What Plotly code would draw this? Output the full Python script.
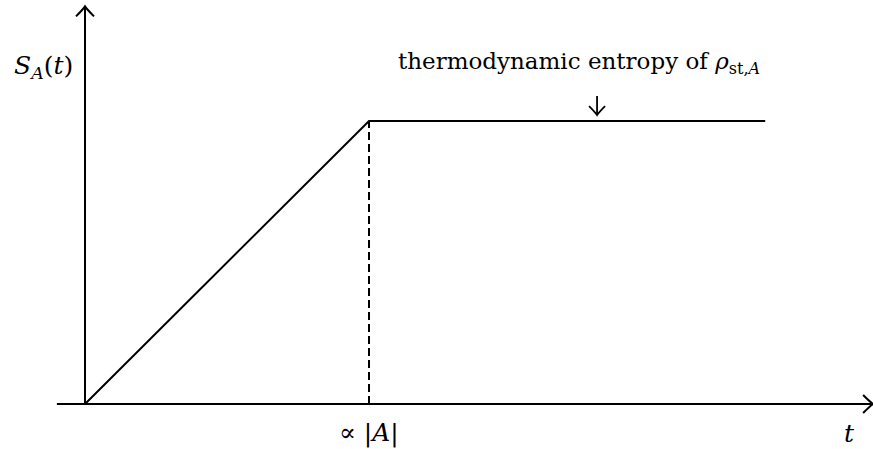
import plotly.graph_objects as go

# Entropy growth of a subsystem: linear rise until saturation, then a plateau
t_points = [0.0, 1.0, 2.395]        # start, saturation time (∝ |A|), end of plateau
s_points = [0.0, 1.0, 1.0]          # entropy S_A(t)
t_sat = t_points[1]
s_sat = s_points[1]

# axis extents (data units)
x_axis_start, x_axis_end = -0.099, 2.775
y_axis_end = 1.405

# view ranges
x_range = [-0.2993, 2.7746]
y_range = [-0.1590, 1.4276]

W, H = 873, 449
px_x = (x_range[1] - x_range[0]) / W
px_y = (y_range[1] - y_range[0]) / H

FONT = "DejaVu Serif"
LINE = dict(color="black", width=2)

fig = go.Figure()

# the entropy curve
fig.add_trace(go.Scatter(x=t_points, y=s_points, mode="lines",
                         line=dict(color="black", width=2), hoverinfo="skip",
                         showlegend=False))

# dashed marker at the saturation time
fig.add_shape(type="line", x0=t_sat, x1=t_sat, y0=0, y1=s_sat, xref="x", yref="y",
              line=dict(color="black", width=2, dash="8px,4px"))

# axes
fig.add_shape(type="line", x0=x_axis_start, x1=x_axis_end, y0=0, y1=0,
              xref="x", yref="y", line=LINE)
fig.add_shape(type="line", x0=0, x1=0, y0=0, y1=y_axis_end,
              xref="x", yref="y", line=LINE)


def arrow_head(tx, ty, direction, back=10, side=9, width=2):
    """Open, slightly curved arrow head with its tip at (tx, ty)."""
    if direction == "up":
        a = (tx - side * px_x, ty - back * px_y)
        b = (tx + side * px_x, ty - back * px_y)
        ca = (tx - 2 * px_x, ty - 3 * px_y)
        cb = (tx + 2 * px_x, ty - 3 * px_y)
    elif direction == "down":
        a = (tx - side * px_x, ty + back * px_y)
        b = (tx + side * px_x, ty + back * px_y)
        ca = (tx - 2 * px_x, ty + 3 * px_y)
        cb = (tx + 2 * px_x, ty + 3 * px_y)
    else:  # right
        a = (tx - back * px_x, ty + side * px_y)
        b = (tx - back * px_x, ty - side * px_y)
        ca = (tx - 3 * px_x, ty + 2 * px_y)
        cb = (tx - 3 * px_x, ty - 2 * px_y)
    path = (f"M {a[0]},{a[1]} Q {ca[0]},{ca[1]} {tx},{ty} "
            f"Q {cb[0]},{cb[1]} {b[0]},{b[1]}")
    fig.add_shape(type="path", path=path, xref="x", yref="y",
                  line=dict(color="black", width=width))


arrow_head(0, y_axis_end, "up")
arrow_head(x_axis_end, 0, "right")

# pointer from the label down to the plateau
ptr_x = 1.803
ptr_top, ptr_tip = 1.088, 1.021
fig.add_shape(type="line", x0=ptr_x, x1=ptr_x, y0=ptr_top, y1=ptr_tip,
              xref="x", yref="y", line=dict(color="black", width=1.8))
arrow_head(ptr_x, ptr_tip, "down", back=9, side=8, width=1.8)

# labels
fig.add_annotation(x=-42 * px_x, y=1.19, xref="x", yref="y",
                   text="<i>S</i><sub><i>A</i></sub>(<i>t</i>)", showarrow=False,
                   font=dict(family=FONT, size=25, color="black"))
fig.add_annotation(x=t_sat, y=-29 * px_y, xref="x", yref="y",
                   text="∝ |<i>A</i>|", showarrow=False,
                   font=dict(family=FONT, size=25, color="black"))
fig.add_annotation(x=2.693, y=-29 * px_y, xref="x", yref="y",
                   text="<i>t</i>", showarrow=False,
                   font=dict(family=FONT, size=25, color="black"))
fig.add_annotation(x=1.740, y=1.205, xref="x", yref="y",
                   text="thermodynamic entropy of <i>ρ</i><sub>st,<i>A</i></sub>",
                   showarrow=False,
                   font=dict(family=FONT, size=23, color="black"))

fig.update_layout(
    width=W, height=H,
    margin=dict(l=0, r=0, t=0, b=0),
    plot_bgcolor="white", paper_bgcolor="white",
    font=dict(family=FONT),
    xaxis=dict(range=x_range, visible=False, fixedrange=True),
    yaxis=dict(range=y_range, visible=False, fixedrange=True),
    showlegend=False,
)

fig.write_html("out.html")
